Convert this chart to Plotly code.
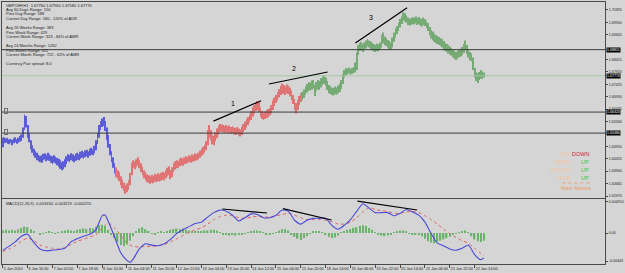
import plotly.graph_objects as go

# ---------------- data ----------------
symbol_info = "GBPCHF,H1  1.67760 1.67960 1.67580 1.67770"
info_lines = [
    symbol_info,
    "Avg 60 Days Range: 150",
    "Prev Day Range: 188",
    "Current Day Range: 180 - 120% of ADR",
    "",
    "Avg 26 Weeks Range: 383",
    "Prev Week Range: 429",
    "Current Week Range: 323 - 84% of AWR",
    "",
    "Avg 24 Months Range: 1262",
    "Prev Month Range: 311",
    "Current Month Range: 722 - 62% of AMR",
    "",
    "Currency Pair spread: 8.0",
]

high = [
    1.6530, 1.6532, 1.6528, 1.6530, 1.6524, 1.6526, 1.6522, 1.6528, 1.6532, 1.6524,
    1.6530, 1.6536, 1.6542, 1.6570, 1.6622, 1.6616, 1.6580, 1.6545, 1.6520, 1.6500,
    1.6486, 1.6476, 1.6470, 1.6462, 1.6458, 1.6460, 1.6466, 1.6468, 1.6462, 1.6470,
    1.6464, 1.6458, 1.6456, 1.6460, 1.6454, 1.6450, 1.6446, 1.6440, 1.6432, 1.6436,
    1.6444, 1.6456, 1.6464, 1.6460, 1.6468, 1.6464, 1.6458, 1.6466, 1.6470, 1.6464,
    1.6474, 1.6478, 1.6472, 1.6480, 1.6482, 1.6476, 1.6486, 1.6490, 1.6484, 1.6498,
    1.6520, 1.6548, 1.6580, 1.6596, 1.6606, 1.6612, 1.6596, 1.6570, 1.6540, 1.6505,
    1.6476, 1.6452, 1.6428, 1.6412, 1.6400, 1.6392, 1.6376, 1.6362, 1.6350, 1.6340,
    1.6348, 1.6360, 1.6390, 1.6430, 1.6440, 1.6436, 1.6444, 1.6452, 1.6440, 1.6428,
    1.6414, 1.6400, 1.6392, 1.6384, 1.6380, 1.6376, 1.6382, 1.6378, 1.6386, 1.6382,
    1.6388, 1.6384, 1.6390, 1.6394, 1.6390, 1.6400, 1.6410, 1.6416, 1.6400, 1.6412,
    1.6428, 1.6436, 1.6440, 1.6436, 1.6446, 1.6450, 1.6446, 1.6452, 1.6456, 1.6452,
    1.6460, 1.6456, 1.6464, 1.6460, 1.6468, 1.6464, 1.6470, 1.6478, 1.6486, 1.6494,
    1.6502, 1.6516, 1.6560, 1.6580, 1.6560, 1.6540, 1.6536, 1.6550, 1.6566, 1.6578,
    1.6584, 1.6582, 1.6580, 1.6576, 1.6580, 1.6574, 1.6578, 1.6572, 1.6576, 1.6570,
    1.6568, 1.6572, 1.6566, 1.6562, 1.6572, 1.6584, 1.6594, 1.6604, 1.6612, 1.6622,
    1.6636, 1.6650, 1.6660, 1.6668, 1.6676, 1.6672, 1.6650, 1.6636, 1.6630, 1.6634,
    1.6640, 1.6644, 1.6648, 1.6660, 1.6678, 1.6690, 1.6700, 1.6712, 1.6724, 1.6736,
    1.6746, 1.6740, 1.6734, 1.6742, 1.6738, 1.6730, 1.6718, 1.6700, 1.6684, 1.6668,
    1.6680, 1.6696, 1.6706, 1.6712, 1.6722, 1.6734, 1.6744, 1.6752, 1.6750, 1.6758,
    1.6760, 1.6740, 1.6752, 1.6760, 1.6756, 1.6768, 1.6774, 1.6778, 1.6770, 1.6756,
    1.6740, 1.6736, 1.6730, 1.6728, 1.6734, 1.6730, 1.6738, 1.6746, 1.6760, 1.6784,
    1.6800, 1.6808, 1.6806, 1.6810, 1.6804, 1.6808, 1.6812, 1.6830, 1.6870, 1.6900,
    1.6908, 1.6912, 1.6904, 1.6910, 1.6918, 1.6924, 1.6918, 1.6914, 1.6908, 1.6904,
    1.6900, 1.6906, 1.6902, 1.6910, 1.6940, 1.6950, 1.6934, 1.6928, 1.6920, 1.6916,
    1.6910, 1.6930, 1.6950, 1.6966, 1.6976, 1.6990, 1.7004, 1.7014, 1.7030, 1.7026,
    1.7018, 1.7010, 1.7004, 1.7008, 1.7012, 1.7010, 1.7014, 1.7008, 1.7012, 1.7006,
    1.7004, 1.7010, 1.7004, 1.6996, 1.6988, 1.6972, 1.6960, 1.6954, 1.6946, 1.6940,
    1.6936, 1.6932, 1.6928, 1.6924, 1.6916, 1.6908, 1.6904, 1.6900, 1.6894, 1.6888,
    1.6880, 1.6876, 1.6872, 1.6876, 1.6880, 1.6886, 1.6892, 1.6904, 1.6918, 1.6900,
    1.6884, 1.6872, 1.6866, 1.6850, 1.6808, 1.6790, 1.6786, 1.6792, 1.6800, 1.6794,
    1.6790,
]
low = [
    1.6492, 1.6508, 1.6510, 1.6506, 1.6504, 1.6510, 1.6500, 1.6508, 1.6512, 1.6506,
    1.6510, 1.6514, 1.6518, 1.6530, 1.6560, 1.6570, 1.6530, 1.6512, 1.6484, 1.6470,
    1.6458, 1.6450, 1.6440, 1.6436, 1.6432, 1.6430, 1.6440, 1.6444, 1.6436, 1.6440,
    1.6438, 1.6430, 1.6424, 1.6430, 1.6426, 1.6420, 1.6414, 1.6406, 1.6400, 1.6404,
    1.6412, 1.6424, 1.6436, 1.6432, 1.6440, 1.6436, 1.6432, 1.6438, 1.6442, 1.6440,
    1.6446, 1.6450, 1.6446, 1.6452, 1.6456, 1.6450, 1.6458, 1.6462, 1.6460, 1.6468,
    1.6480, 1.6505, 1.6530, 1.6560, 1.6572, 1.6576, 1.6556, 1.6520, 1.6490, 1.6460,
    1.6432, 1.6410, 1.6388, 1.6372, 1.6366, 1.6356, 1.6340, 1.6328, 1.6318, 1.6306,
    1.6312, 1.6322, 1.6340, 1.6380, 1.6410, 1.6404, 1.6412, 1.6420, 1.6408, 1.6392,
    1.6380, 1.6368, 1.6360, 1.6352, 1.6350, 1.6346, 1.6350, 1.6348, 1.6354, 1.6352,
    1.6356, 1.6354, 1.6358, 1.6362, 1.6360, 1.6368, 1.6376, 1.6380, 1.6364, 1.6372,
    1.6392, 1.6402, 1.6408, 1.6410, 1.6416, 1.6420, 1.6418, 1.6424, 1.6426, 1.6428,
    1.6432, 1.6430, 1.6434, 1.6436, 1.6438, 1.6440, 1.6444, 1.6450, 1.6456, 1.6462,
    1.6470, 1.6480, 1.6500, 1.6530, 1.6520, 1.6504, 1.6500, 1.6516, 1.6528, 1.6540,
    1.6552, 1.6554, 1.6550, 1.6548, 1.6552, 1.6546, 1.6550, 1.6544, 1.6548, 1.6542,
    1.6540, 1.6544, 1.6538, 1.6534, 1.6540, 1.6552, 1.6560, 1.6570, 1.6580, 1.6590,
    1.6600, 1.6614, 1.6626, 1.6636, 1.6640, 1.6632, 1.6612, 1.6604, 1.6600, 1.6604,
    1.6608, 1.6612, 1.6618, 1.6626, 1.6640, 1.6656, 1.6668, 1.6678, 1.6690, 1.6700,
    1.6706, 1.6704, 1.6700, 1.6708, 1.6704, 1.6694, 1.6680, 1.6664, 1.6640, 1.6626,
    1.6640, 1.6660, 1.6672, 1.6680, 1.6688, 1.6700, 1.6710, 1.6716, 1.6718, 1.6722,
    1.6726, 1.6696, 1.6716, 1.6724, 1.6720, 1.6730, 1.6740, 1.6744, 1.6736, 1.6720,
    1.6708, 1.6704, 1.6700, 1.6698, 1.6702, 1.6700, 1.6706, 1.6712, 1.6724, 1.6744,
    1.6770, 1.6780, 1.6782, 1.6786, 1.6780, 1.6784, 1.6788, 1.6790, 1.6800, 1.6860,
    1.6876, 1.6880, 1.6872, 1.6878, 1.6886, 1.6894, 1.6890, 1.6884, 1.6878, 1.6874,
    1.6872, 1.6876, 1.6874, 1.6880, 1.6890, 1.6906, 1.6900, 1.6896, 1.6890, 1.6884,
    1.6880, 1.6890, 1.6912, 1.6930, 1.6944, 1.6956, 1.6970, 1.6984, 1.6998, 1.6994,
    1.6990, 1.6980, 1.6976, 1.6980, 1.6984, 1.6982, 1.6986, 1.6980, 1.6984, 1.6978,
    1.6974, 1.6980, 1.6976, 1.6968, 1.6956, 1.6940, 1.6926, 1.6920, 1.6912, 1.6908,
    1.6904, 1.6900, 1.6896, 1.6890, 1.6882, 1.6876, 1.6872, 1.6866, 1.6862, 1.6858,
    1.6850, 1.6844, 1.6840, 1.6846, 1.6850, 1.6854, 1.6860, 1.6868, 1.6880, 1.6864,
    1.6850, 1.6838, 1.6834, 1.6800, 1.6770, 1.6756, 1.6748, 1.6760, 1.6766, 1.6764,
    1.6770,
]
# trend-state colouring of the bars (bar index where state changes)
blue_until = 73
red_until = 193

x_tick_bars = [0, 16, 32, 48, 64, 80, 96, 112, 128, 144, 160, 176, 192, 208, 224, 240, 256, 272, 288, 304]
x_tick_text = ["5 Jan 2010", "6 Jan 10:00", "7 Jan 02:00", "7 Jan 18:00", "8 Jan 10:00",
               "11 Jan 04:00", "11 Jan 20:00", "12 Jan 12:00", "13 Jan 04:00", "13 Jan 20:00",
               "14 Jan 12:00", "15 Jan 04:00", "15 Jan 20:00", "18 Jan 14:00", "19 Jan 06:00",
               "19 Jan 22:00", "20 Jan 14:00", "21 Jan 06:00", "21 Jan 22:00", "22 Jan 14:00"]

# scale labels that are not hidden behind the black level boxes
price_ticks = [1.70395, 1.69900, 1.69405, 1.68415, 1.67920, 1.67425, 1.66930,
               1.66435, 1.65940, 1.64950, 1.64455, 1.63960, 1.63465, 1.62970]
hlines = [1.68811, 1.66320, 1.65480]
current_price = 1.67770

macd_bar = [0, 4, 8, 12, 16, 20, 24, 28, 32, 36, 40, 44, 48, 52, 56, 60, 64, 66, 68, 72, 76, 80, 82,
            84, 88, 92, 96, 100, 104, 108, 112, 116, 120, 124, 128, 132, 136, 140, 144, 148, 152,
            156, 160, 164, 168, 172, 176, 180, 184, 188, 192, 196, 200, 204, 208, 212, 216, 220,
            224, 228, 232, 236, 240, 244, 248, 252, 256, 260, 264, 268, 272, 276, 280, 284, 288,
            292, 296, 300, 304, 308, 310]
macd_main = [-0.0027, -0.0021, -0.0014, -0.0005, -0.0002, -0.0015, -0.0025, -0.0028, -0.0027, -0.0026,
             -0.0024, -0.0014, -0.0009, -0.0005, -0.0002, 0.0005, 0.0027, 0.0028, 0.0018, -0.0006,
             -0.0031, -0.0043, -0.0046, -0.0041, -0.0025, -0.0017, -0.0019, -0.0020, -0.0017, -0.0010,
             -0.0001, 0.0005, 0.0010, 0.0015, 0.0017, 0.0025, 0.0032, 0.0036, 0.0034, 0.0028,
             0.0019, 0.0024, 0.0030, 0.0029, 0.0024, 0.0024, 0.0028, 0.0036, 0.0034, 0.0020,
             0.0014, 0.0020, 0.0023, 0.0023, 0.0023, 0.0012, 0.0006, 0.0012, 0.0021, 0.0034,
             0.0046, 0.0039, 0.0032, 0.0032, 0.0032, 0.0027, 0.0031, 0.0037, 0.0033, 0.0028,
             0.0017, -0.0001, -0.0016, -0.0020, -0.0025, -0.0027, -0.0024, -0.0019, -0.0034, -0.0042,
             -0.0039]
macd_signal = [-0.0029, -0.0025, -0.0020, -0.0013, -0.0008, -0.0012, -0.0019, -0.0022, -0.0024, -0.0025,
               -0.0023, -0.0018, -0.0013, -0.0010, -0.0006, -0.0003, 0.0008, 0.0013, 0.0016, 0.0008,
               -0.0004, -0.0016, -0.0019, -0.0021, -0.0022, -0.0021, -0.0021, -0.0020, -0.0018, -0.0014,
               -0.0009, -0.0004, 0.0001, 0.0005, 0.0008, 0.0014, 0.0021, 0.0026, 0.0028, 0.0027,
               0.0024, 0.0023, 0.0025, 0.0026, 0.0025, 0.0025, 0.0027, 0.0029, 0.0031, 0.0028,
               0.0024, 0.0021, 0.0021, 0.0021, 0.0020, 0.0018, 0.0014, 0.0014, 0.0017, 0.0024,
               0.0033, 0.0040, 0.0037, 0.0035, 0.0034, 0.0031, 0.0031, 0.0033, 0.0034, 0.0032,
               0.0027, 0.0021, 0.0014, 0.0006, -0.0001, -0.0007, -0.0012, -0.0016, -0.0024, -0.0032,
               -0.0035]
hist_bar = list(range(0, 311, 2))
hist = [0.0004, 0.0005, 0.0004, 0.0005, 0.0004, 0.0006, 0.0008, 0.0010, 0.0009, 0.0006,
        0.0003, 0.0000, -0.0002, -0.0001, 0.0001, 0.0002, 0.0001, -0.0001, 0.0001, 0.0003,
        0.0004, 0.0005, 0.0004, 0.0003, 0.0005, 0.0006, 0.0007, 0.0006, 0.0008, 0.0007,
        0.0010, 0.0012, 0.0013, 0.0011, 0.0005, -0.0002, -0.0008, -0.0014, -0.0019, -0.0021,
        -0.0018, -0.0012, -0.0005, 0.0002, 0.0007, 0.0009, 0.0006, 0.0002, -0.0001, -0.0002,
        0.0001, 0.0002, 0.0001, 0.0003, 0.0005, 0.0006, 0.0007, 0.0006, 0.0007, 0.0005,
        0.0004, 0.0003, 0.0002, 0.0003, 0.0002, 0.0004, 0.0004, 0.0005, 0.0005, 0.0004,
        0.0001, -0.0002, -0.0003, -0.0004, -0.0003, -0.0004, -0.0003, -0.0002, -0.0001, 0.0001,
        0.0003, 0.0004, 0.0004, 0.0003, 0.0001, -0.0002, -0.0002, -0.0001, 0.0001, 0.0004,
        0.0006, 0.0006, 0.0004, -0.0002, -0.0006, -0.0009, -0.0011, -0.0008, -0.0005, -0.0001,
        0.0002, 0.0002, 0.0003, 0.0001, -0.0003, -0.0006, -0.0008, -0.0007, -0.0004, 0.0001,
        0.0003, 0.0005, 0.0006, 0.0008, 0.0009, 0.0011, 0.0012, 0.0011, 0.0008, 0.0005,
        0.0001, -0.0002, -0.0004, -0.0005, -0.0004, -0.0003, 0.0001, 0.0003, 0.0004, 0.0004,
        0.0002, -0.0001, -0.0002, -0.0003, -0.0003, -0.0005, -0.0009, -0.0013, -0.0015, -0.0016,
        -0.0014, -0.0012, -0.0010, -0.0008, -0.0006, -0.0003, -0.0001, 0.0001, 0.0002, 0.0004,
        0.0001, -0.0005, -0.0010, -0.0013, -0.0014, -0.0012]
macd_ticks = [0.00491, 0.0, -0.00443]
macd_tick_text = ["0.004910", "0.00", "-0.00443"]
macd_label = "MACD(12,26,9) -0.003434 -0.003219 -0.000215"

# hand-drawn trend lines: (bar0, value0, bar1, value1, label)
trend_main = [(135.7, 1.6596, 166.4, 1.6677, "1"),
              (171.5, 1.6744, 209.3, 1.6792, "2"),
              (227.2, 1.6908, 260.5, 1.7048, "3")]
trend_label_pos = [(148.5, 1.6668), (187.5, 1.6804), (237.4, 1.7008)]
trend_macd = [(141.4, 0.00377, 170.2, 0.00314),
              (180.5, 0.00382, 211.8, 0.00204),
              (228.5, 0.00502, 266.9, 0.00361)]

trend_rows = [("DAY", "DOWN"), ("WEEK", "UP"), ("MONTH", "UP"), ("YEAR", "UP")]

# ---------------- styling ----------------
BG = "#d5d5d5"
BORDER = "#4a4a4a"
FONT = "Liberation Sans, Arial, sans-serif"
W, H = 625, 273
ML, MR, MT, MB = 1, 17, 1, 9


def px(x):
    return (x - ML) / (W - ML - MR)


def py(y):
    return (H - MB - y) / (H - MT - MB)


colors = []
for i in range(len(high)):
    if i < blue_until:
        colors.append("#5c5cd6")
    elif i < red_until:
        colors.append("#e07474")
    else:
        colors.append("#76ab76")

bars = list(range(len(high)))
fig = go.Figure()
fig.add_trace(go.Bar(x=bars, base=low, y=[h - l for h, l in zip(high, low)],
                     width=0.55, marker=dict(color=colors, line=dict(width=0)),
                     xaxis="x", yaxis="y", hoverinfo="skip"))
fig.add_trace(go.Bar(x=hist_bar, y=hist, width=0.9,
                     marker=dict(color="#6cb46c", line=dict(width=0)),
                     xaxis="x2", yaxis="y2", hoverinfo="skip"))
fig.add_trace(go.Scatter(x=macd_bar, y=macd_signal, mode="lines",
                         line=dict(color="#e06060", width=1, dash="dot", shape="spline", smoothing=0.6),
                         xaxis="x2", yaxis="y2", hoverinfo="skip"))
fig.add_trace(go.Scatter(x=macd_bar, y=macd_main, mode="lines",
                         line=dict(color="#4a4ad8", width=1.1, shape="spline", smoothing=0.6),
                         xaxis="x2", yaxis="y2", hoverinfo="skip"))

xr = [-0.5, 388]
main_dom = [py(198), py(2)]
macd_dom = [0, py(199)]
axis_common = dict(showgrid=False, zeroline=False, showline=True, mirror=True,
                   linecolor=BORDER, linewidth=1)
fig.update_layout(
    width=W, height=H, margin=dict(l=ML, r=MR, t=MT, b=MB),
    paper_bgcolor=BG, plot_bgcolor=BG, showlegend=False, barmode="overlay",
    font=dict(family=FONT, size=4, color="#202020"),
    xaxis=dict(domain=[0, 1], anchor="y", range=xr, showticklabels=False, ticks="", **axis_common),
    yaxis=dict(domain=main_dom, anchor="x", side="right", range=[1.62890, 1.70714],
               tickvals=price_ticks, ticktext=["%.5f" % v for v in price_ticks],
               ticks="outside", ticklen=2, tickcolor=BORDER, tickfont=dict(size=3.6, color="#202020"),
               **axis_common),
    xaxis2=dict(domain=[0, 1], anchor="y2", range=xr, matches="x",
                tickvals=x_tick_bars, ticktext=x_tick_text, ticks="outside", ticklen=3,
                tickcolor=BORDER, ticklabelposition="outside right", tickangle=0,
                tickfont=dict(size=3.8, color="#202020"), **axis_common),
    yaxis2=dict(domain=macd_dom, anchor="x2", side="right", range=[-0.00487, 0.00534],
                tickvals=macd_ticks, ticktext=macd_tick_text, ticks="outside", ticklen=2,
                tickcolor=BORDER, tickfont=dict(size=3.6, color="#202020"), **axis_common),
)

shapes = []
annotations = []
# horizontal levels
for lv in hlines:
    shapes.append(dict(type="line", xref="x domain", yref="y", x0=0, x1=1, y0=lv, y1=lv,
                       line=dict(color="#3a3a3a", width=1)))
    annotations.append(dict(xref="paper", yref="y", x=1.0, y=lv, xanchor="left", yanchor="middle",
                            text="%.5f" % lv, showarrow=False, bgcolor="#000000",
                            font=dict(size=3.6, color="#ffffff"), borderpad=0, xshift=1))
shapes.append(dict(type="line", xref="x domain", yref="y", x0=0, x1=1, y0=current_price, y1=current_price,
                   line=dict(color="#a9c9a9", width=1)))
annotations.append(dict(xref="paper", yref="y", x=1.0, y=current_price, xanchor="left", yanchor="middle",
                        text="%.5f" % current_price, showarrow=False, bgcolor="#000000",
                        font=dict(size=3.6, color="#ffffff"), borderpad=0, xshift=1))
# trend lines
for (a0, v0, a1, v1, lab), (lx, ly) in zip(trend_main, trend_label_pos):
    shapes.append(dict(type="line", xref="x", yref="y", x0=a0, y0=v0, x1=a1, y1=v1,
                       line=dict(color="#000000", width=1.2)))
    annotations.append(dict(xref="x", yref="y", x=lx, y=ly, text=lab, showarrow=False,
                            font=dict(size=7, color="#000000")))
for a0, v0, a1, v1 in trend_macd:
    shapes.append(dict(type="line", xref="x2", yref="y2", x0=a0, y0=v0, x1=a1, y1=v1,
                       line=dict(color="#000000", width=1.2)))

# info text block
for k, line in enumerate(info_lines):
    if not line:
        continue
    annotations.append(dict(xref="paper", yref="paper", x=px(3), y=py(5 + 4.5 * k),
                            xanchor="left", yanchor="middle", text=line, showarrow=False,
                            font=dict(size=4, color="#1a1a1a")))
annotations.append(dict(xref="paper", yref="paper", x=px(3), y=py(203.5), xanchor="left",
                        yanchor="middle", text=macd_label, showarrow=False,
                        font=dict(size=4, color="#1a1a1a")))
# tiny level tags at left
for ytag in (111, 132):
    annotations.append(dict(xref="paper", yref="paper", x=px(3.5), y=py(ytag), xanchor="left",
                            yanchor="middle", text="&nbsp;&nbsp;", showarrow=False,
                            font=dict(size=3), bordercolor="#707070", borderwidth=1, borderpad=0))

# trend status panel
for k, (name, state) in enumerate(trend_rows):
    yy = py(154 + 8 * k)
    annotations.append(dict(xref="paper", yref="paper", x=px(575.5), y=yy, xanchor="right",
                            yanchor="middle", text=name, showarrow=False,
                            font=dict(size=5.5, color="#f2c4a0")))
    annotations.append(dict(xref="paper", yref="paper", x=px(593.5), y=yy, xanchor="right",
                            yanchor="middle", text=state, showarrow=False,
                            font=dict(size=5.5, color="#d8203c" if state == "DOWN" else "#3cc83c")))
shapes.append(dict(type="line", xref="paper", yref="paper", x0=px(565), x1=px(595), y0=py(183), y1=py(183),
                   line=dict(color="#e8a070", width=1, dash="dot")))
annotations.append(dict(xref="paper", yref="paper", x=px(579), y=py(187.5), xanchor="center",
                        yanchor="middle", text="Main Moves", showarrow=False,
                        font=dict(size=5.5, color="#e89a5c")))

fig.update_layout(shapes=shapes, annotations=annotations)
fig.write_html("out.html")
